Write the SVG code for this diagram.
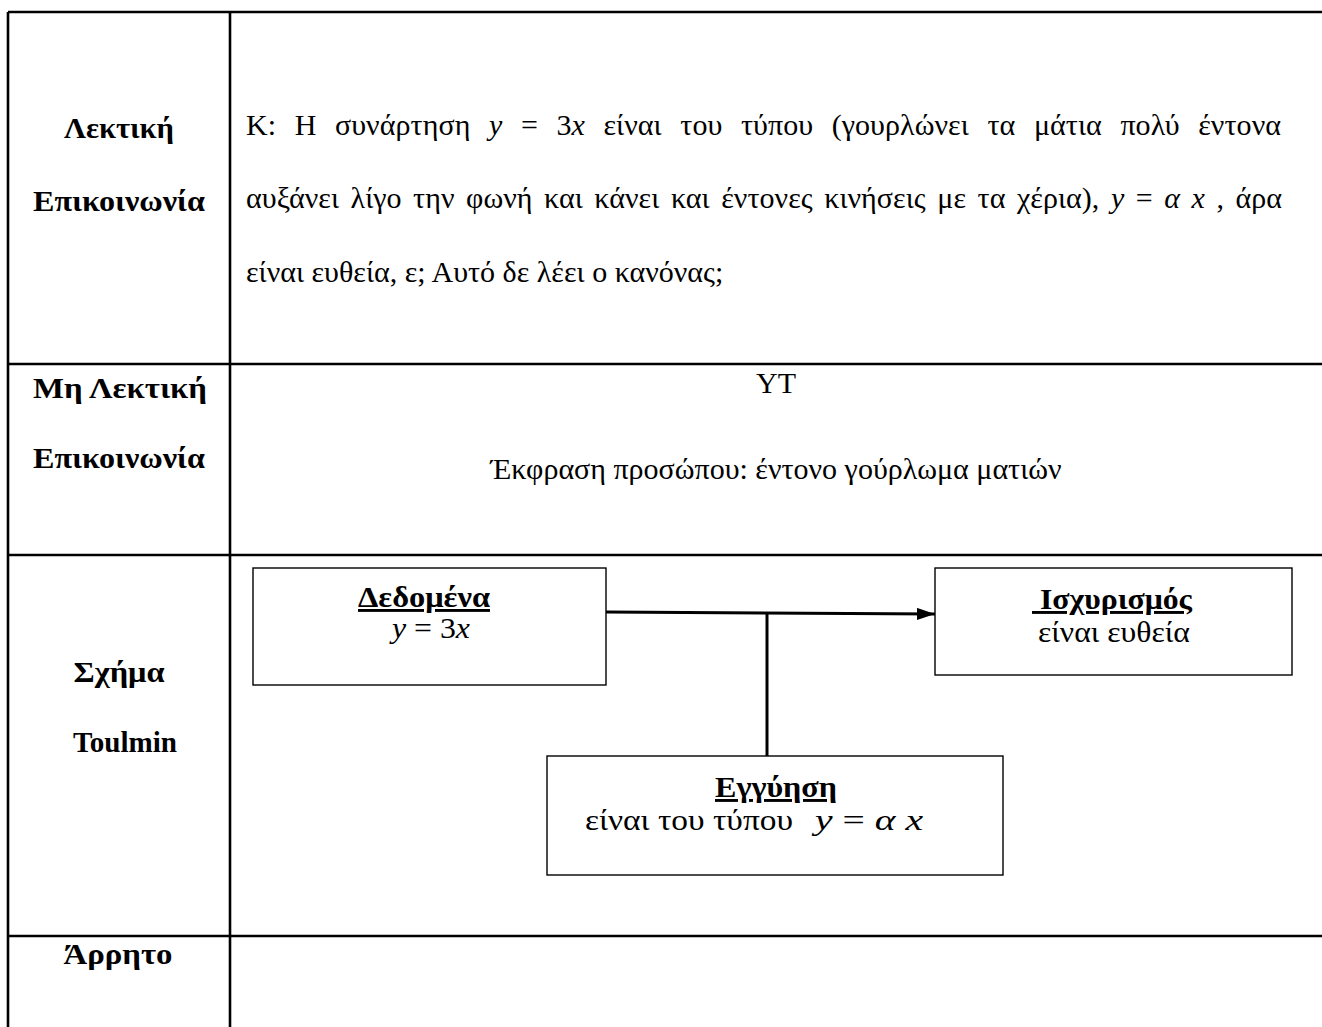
<svg xmlns="http://www.w3.org/2000/svg" width="1322" height="1027" viewBox="0 0 1322 1027">
<style>
.grid{stroke:#000;stroke-width:2.6;fill:none}
.box{stroke:#000;stroke-width:1.4;fill:#fff}
.conn{stroke:#000;stroke-width:3;fill:none}
.lbl{font-family:"Liberation Serif","Times New Roman",serif;font-weight:bold;font-size:29px;fill:#000;text-anchor:middle}
.txt{font-family:"Liberation Serif","Times New Roman",serif;font-size:30px;fill:#000}
.btxt{font-family:"Liberation Serif","Times New Roman",serif;font-size:29px;fill:#000;text-anchor:middle}
.bt{font-weight:bold;text-decoration:underline}
.it{font-style:italic}
</style>
<defs>
<marker id="ah" markerWidth="6" markerHeight="4" refX="6" refY="2" orient="auto" markerUnits="strokeWidth">
<path d="M0,0 L6,2 L0,4 Z" fill="#000"/>
</marker>
</defs>
<rect width="1322" height="1027" fill="#fff"/>
<g id="table">
<line class="grid" x1="8" y1="12" x2="1322" y2="12"/>
<line class="grid" x1="8" y1="12" x2="8" y2="1027"/>
<line class="grid" x1="230" y1="12" x2="230" y2="1027"/>
<line class="grid" x1="8" y1="364" x2="1322" y2="364"/>
<line class="grid" x1="8" y1="555" x2="1322" y2="555"/>
<line class="grid" x1="8" y1="936" x2="1322" y2="936"/>
</g>
<g id="labels">
<text class="lbl" x="119" y="138" textLength="110" lengthAdjust="spacingAndGlyphs">Λεκτική</text>
<text class="lbl" x="119" y="211" textLength="172" lengthAdjust="spacingAndGlyphs">Επικοινωνία</text>
<text class="lbl" x="120" y="398" textLength="174" lengthAdjust="spacingAndGlyphs">Μη Λεκτική</text>
<text class="lbl" x="119" y="468" textLength="172" lengthAdjust="spacingAndGlyphs">Επικοινωνία</text>
<text class="lbl" x="119" y="682" textLength="91" lengthAdjust="spacingAndGlyphs">Σχήμα</text>
<text class="lbl" x="125" y="752" textLength="104" lengthAdjust="spacingAndGlyphs">Toulmin</text>
<text class="lbl" x="118" y="964" textLength="109" lengthAdjust="spacingAndGlyphs">Άρρητο</text>
</g>
<g id="verbal">
<text class="txt" x="246" y="135" word-spacing="11" textLength="1035" lengthAdjust="spacing">Κ: Η συνάρτηση <tspan class="it">y</tspan> = 3<tspan class="it">x</tspan> είναι του τύπου (γουρλώνει τα μάτια πολύ έντονα</text>
<text class="txt" x="246" y="208" word-spacing="4" textLength="1036" lengthAdjust="spacing">αυξάνει λίγο την φωνή και κάνει και έντονες κινήσεις με τα χέρια), <tspan class="it">y</tspan> = <tspan class="it">α</tspan> <tspan class="it">x</tspan> , άρα</text>
<text class="txt" x="246" y="282">είναι ευθεία, ε; Αυτό δε λέει ο κανόνας;</text>
</g>
<g id="nonverbal">
<text class="txt" x="776" y="393" text-anchor="middle">YT</text>
<text class="txt" x="776" y="479" text-anchor="middle">Έκφραση προσώπου: έντονο γούρλωμα ματιών</text>
</g>
<g id="connectors">
<line class="conn" x1="606" y1="612" x2="935" y2="614" marker-end="url(#ah)"/>
<line class="conn" x1="767" y1="613" x2="767" y2="756"/>
</g>
<g id="node-dedomena">
<rect class="box" x="253" y="568" width="353" height="117"/>
<text class="btxt" x="424" y="607" textLength="132" lengthAdjust="spacingAndGlyphs"><tspan class="bt">Δεδομένα</tspan></text>
<text class="btxt" x="431" y="638" textLength="78" lengthAdjust="spacingAndGlyphs"><tspan class="it">y</tspan> = 3<tspan class="it">x</tspan></text>
</g>
<g id="node-ischyrismos">
<rect class="box" x="935" y="568" width="357" height="107"/>
<text class="btxt" x="1112" y="609" xml:space="preserve" textLength="160" lengthAdjust="spacingAndGlyphs"><tspan class="bt"> Ισχυρισμός</tspan></text>
<text class="btxt" x="1114" y="642" textLength="152" lengthAdjust="spacingAndGlyphs">είναι ευθεία</text>
</g>
<g id="node-engyisi">
<rect class="box" x="547" y="756" width="456" height="119"/>
<text class="btxt" x="776" y="797" textLength="122" lengthAdjust="spacingAndGlyphs"><tspan class="bt">Εγγύηση</tspan></text>
<text class="btxt" x="689" y="830" textLength="208" lengthAdjust="spacingAndGlyphs">είναι του τύπου</text>
<text class="btxt" x="869" y="830" textLength="108" lengthAdjust="spacingAndGlyphs"><tspan class="it">y</tspan> = <tspan class="it">α</tspan> <tspan class="it">x</tspan></text>
</g>
</svg>
